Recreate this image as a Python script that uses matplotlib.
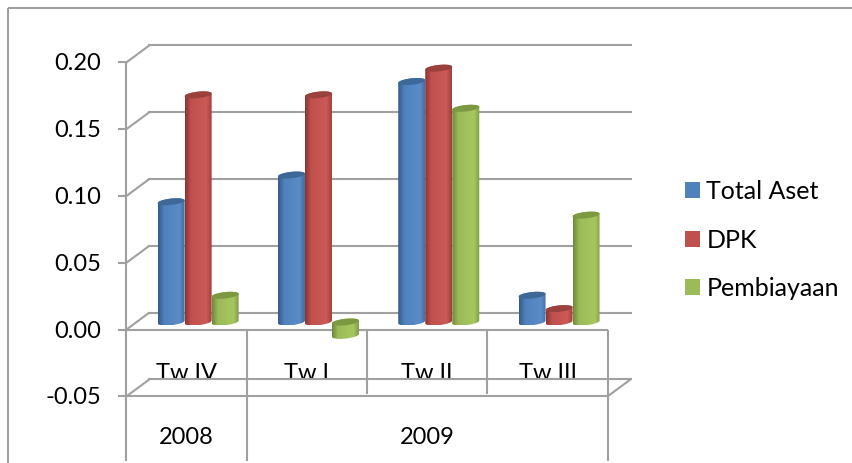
import numpy as np
import matplotlib
matplotlib.use("Agg")
import matplotlib.pyplot as plt
from matplotlib.patches import Polygon, Patch
from matplotlib.colors import LinearSegmentedColormap

series_names = ["Total Aset", "DPK", "Pembiayaan"]
quarters = ["Tw IV", "Tw I", "Tw II", "Tw III"]
years = ["2008", "2009"]
year_spans = [(0, 1), (1, 4)]
y_ticks = [-0.05, 0.00, 0.05, 0.10, 0.15, 0.20]
total_aset = [0.09, 0.11, 0.18, 0.02]
dpk = [0.17, 0.17, 0.19, 0.01]
pembiayaan = [0.02, -0.01, 0.16, 0.08]

W, H = 853, 463
PX_X = 120.3      # pixels per category
PX_Y = 1336.0     # pixels per unit value
X0, Y0 = 126.5, 329.5  # pixel of category 0 / value 0
GRID = "#a0a0a0"
FS = 17
plt.rcParams["font.family"] = ["Lato", "DejaVu Sans"]

fig = plt.figure(figsize=(W / 100, H / 100), dpi=100, facecolor="white")
ax = fig.add_axes([0, 0, 1, 1])
ax.set_xlim(-X0 / PX_X, (W - X0) / PX_X)
ax.set_ylim((Y0 - H) / PX_Y, Y0 / PX_Y)
ax.axis("off")

def dx(p): return p / PX_X
def dy(p): return p / PX_Y

line = dict(color=GRID, lw=1.5, solid_capstyle="butt", zorder=1)
n = len(quarters)
back_x, back_y = dx(23), dy(17)

# chart frame (left and top edges only)
ax.plot([dx(8 - X0), dx(8 - X0)], [ax.get_ylim()[0], dy(Y0 - 8)], **line)
ax.plot([dx(8 - X0), dx(W - X0)], [dy(Y0 - 8), dy(Y0 - 8)], **line)

# walls and gridlines
for v in y_ticks:
    ax.plot([0, back_x], [v, v + back_y], **line)
    ax.plot([back_x, n + back_x], [v + back_y, v + back_y], color=GRID, lw=1.5, zorder=3 if v < 0 else 1)
    ax.plot([-dx(8), 0], [v, v], **line)
    ax.text(-dx(25), v - dy(1.5), f"{v:.2f}", ha="right", va="center", fontsize=FS, color="black", zorder=2)

bottom = -dy(131)
ax.plot([0, 0], [bottom, max(y_ticks)], **line)
ax.plot([0, n], [0, 0], **line)
ax.plot([0, n], [min(y_ticks), min(y_ticks)], **line)
ax.plot([n, n + back_x], [min(y_ticks), min(y_ticks) + back_y], **line)
ax.plot([n, n], [bottom, 0], **line)
for i in range(1, n):
    ax.plot([i, i], [bottom if i == 1 else min(y_ticks) + dy(2), 0], **line)

# category labels
for i, q in enumerate(quarters):
    ax.text(i + 0.5, -dy(51), q, ha="center", va="baseline", fontsize=FS, color="black", zorder=2)
for (a, b), yr in zip(year_spans, years):
    ax.text((a + b) / 2, -dy(108.5), yr, ha="center", va="center", fontsize=FS, color="black", zorder=2)

# cylinders
palette = [("#345a88", "#4f81bd", "#5b8cc8", "#3f6a9e", "#3d6898"),
           ("#8c3431", "#c0504d", "#cc5a57", "#a03f3c", "#9a403d"),
           ("#6f8a38", "#9bbb59", "#a6c75f", "#7f9c45", "#7c9840")]
BAR_W = dx(27)
A = BAR_W / 2
B, K = dy(3.2), dy(1.4)
T = np.linspace(0, 2 * np.pi, 90)

def ell(cx, cy, t):
    return cx + A * np.cos(t), cy + B * np.sin(t) + K * np.cos(t)

for j, (vals, cols) in enumerate(zip([total_aset, dpk, pembiayaan], palette)):
    cmap = LinearSegmentedColormap.from_list("c", [(0, cols[0]), (0.22, cols[1]), (0.8, cols[2]), (1, cols[3])])
    for i, v in enumerate(vals):
        cx = i + 0.5 + dx(11.5) + (j - 1) * BAR_W
        lo, hi = min(v, 0) + dy(7.5), max(v, 0) + dy(7.5)
        xb, yb = ell(cx, lo, np.linspace(np.pi, 2 * np.pi, 45))
        xt, yt = ell(cx, hi, np.linspace(0, np.pi, 45))
        pts = np.column_stack([np.r_[xb, xt], np.r_[yb, yt]])
        poly = Polygon(pts, closed=True, fc="none", ec="none", zorder=4 + j)
        ax.add_patch(poly)
        im = ax.imshow(np.linspace(0, 1, 64)[None, :], cmap=cmap, aspect="auto", zorder=4 + j,
                       extent=[cx - A, cx + A, pts[:, 1].min(), pts[:, 1].max()], interpolation="bilinear")
        im.set_clip_path(poly)
        xc, yc = ell(cx, hi, T)
        ax.add_patch(Polygon(np.column_stack([xc, yc]), closed=True, fc=cols[4], ec="none", zorder=4 + j))

ax.set_xlim(-X0 / PX_X, (W - X0) / PX_X)
ax.set_ylim((Y0 - H) / PX_Y, Y0 / PX_Y)

handles = [Patch(fc=c[1], ec="none") for c in palette]
ax.legend(handles, series_names, loc="center left", bbox_to_anchor=(685 / W, 1 - 240 / H),
          bbox_transform=fig.transFigure, frameon=False, fontsize=18, handlelength=0.6, handleheight=0.6,
          handletextpad=0.26, labelspacing=1.02, borderpad=0, borderaxespad=0, labelcolor="black")

fig.savefig("out.png", dpi=100, facecolor="white")
